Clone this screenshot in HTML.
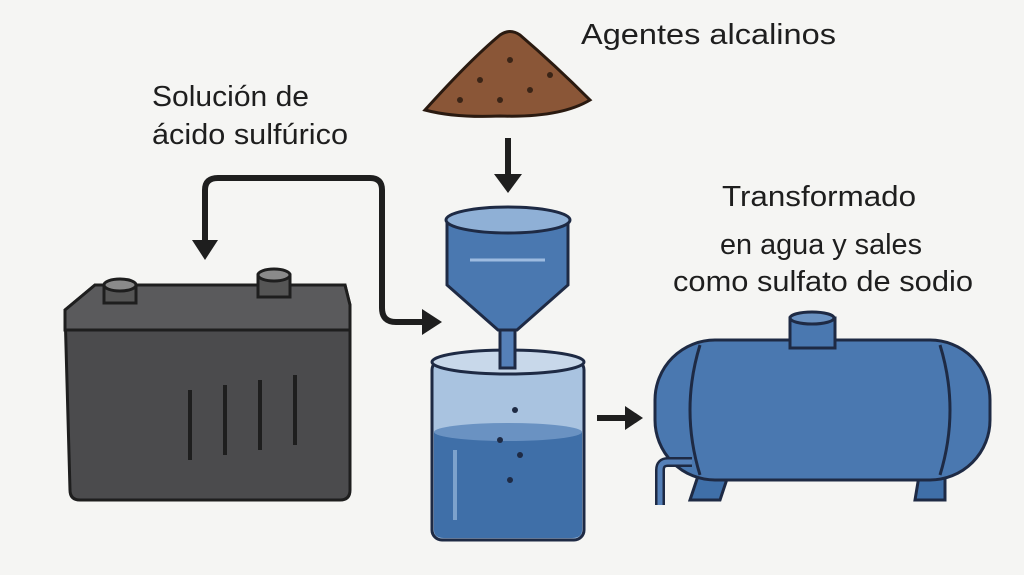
<!DOCTYPE html>
<html><head><meta charset="utf-8"><style>
html,body{margin:0;padding:0;background:#f5f5f3;}
svg{display:block}
text{font-family:"Liberation Sans",sans-serif;fill:#1e1e1e;font-size:29px}
</style></head><body>
<svg width="1024" height="575" viewBox="0 0 1024 575">
<rect width="1024" height="575" fill="#f5f5f3"/>
<!-- texts -->
<text x="581" y="44" textLength="255" lengthAdjust="spacingAndGlyphs">Agentes alcalinos</text>
<text x="152" y="106" textLength="157" lengthAdjust="spacingAndGlyphs">Solución de</text>
<text x="152" y="144" textLength="196" lengthAdjust="spacingAndGlyphs">ácido sulfúrico</text>
<text x="722" y="206" textLength="194" lengthAdjust="spacingAndGlyphs">Transformado</text>
<text x="720" y="254" textLength="202" lengthAdjust="spacingAndGlyphs">en agua y sales</text>
<text x="673" y="291" textLength="300" lengthAdjust="spacingAndGlyphs">como sulfato de sodio</text>
<!-- sand pile -->
<path d="M425 110 Q470 60 500 35 Q510 28 520 35 Q555 65 590 100 Q560 118 500 116 Q455 118 425 110Z" fill="#8a5637" stroke="#2a1a10" stroke-width="3"/>
<g fill="#3a2416"><circle cx="480" cy="80" r="3"/><circle cx="510" cy="60" r="3"/><circle cx="530" cy="90" r="3"/><circle cx="460" cy="100" r="3"/><circle cx="550" cy="75" r="3"/><circle cx="500" cy="100" r="3"/></g>
<!-- down arrow -->
<line x1="508" y1="138" x2="508" y2="178" stroke="#1e1e1e" stroke-width="6"/>
<path d="M494 174 L522 174 L508 193Z" fill="#1e1e1e"/>
<!-- battery arrow -->
<path d="M205 245 L205 190 Q205 178 218 178 L370 178 Q382 178 382 190 L382 308 Q382 322 396 322 L425 322" fill="none" stroke="#1e1e1e" stroke-width="6"/>
<path d="M192 240 L218 240 L205 260Z" fill="#1e1e1e"/>
<path d="M422 309 L422 335 L442 322Z" fill="#1e1e1e"/>
<!-- battery -->
<path d="M65 310 L95 285 L345 285 L350 305 L350 490 Q350 500 340 500 L80 500 Q70 500 70 490Z" fill="#4b4b4d" stroke="#1e1e1e" stroke-width="3"/>
<path d="M65 310 L95 285 L345 285 L350 305 L350 330 L65 330Z" fill="#5a5a5c" stroke="#1e1e1e" stroke-width="3"/>
<rect x="104" y="285" width="32" height="18" fill="#555" stroke="#1e1e1e" stroke-width="3"/>
<ellipse cx="120" cy="285" rx="16" ry="6" fill="#8a8a8a" stroke="#1e1e1e" stroke-width="3"/>
<rect x="258" y="275" width="32" height="22" fill="#555" stroke="#1e1e1e" stroke-width="3"/>
<ellipse cx="274" cy="275" rx="16" ry="6" fill="#8a8a8a" stroke="#1e1e1e" stroke-width="3"/>
<g stroke="#1e1e1e" stroke-width="4"><line x1="190" y1="390" x2="190" y2="460"/><line x1="225" y1="385" x2="225" y2="455"/><line x1="260" y1="380" x2="260" y2="450"/><line x1="295" y1="375" x2="295" y2="445"/></g>
<!-- beaker -->
<rect x="432" y="360" width="152" height="180" rx="10" fill="#a9c3e0" stroke="#1e2a44" stroke-width="3"/>
<path d="M434 432 Q508 422 582 432 L582 530 Q582 538 572 538 L444 538 Q434 538 434 530Z" fill="#3f6fa8"/>
<ellipse cx="508" cy="362" rx="76" ry="12" fill="#c8d8ea" stroke="#1e2a44" stroke-width="3"/>
<ellipse cx="508" cy="432" rx="74" ry="9" fill="#6a92c2"/>
<line x1="455" y1="450" x2="455" y2="520" stroke="#7da2cc" stroke-width="4"/>
<!-- funnel -->
<path d="M500 300 L500 368 L515 368 L515 300Z" fill="#5580b8" stroke="#1e2a44" stroke-width="3"/>
<path d="M447 220 L568 220 L568 285 L517 330 L498 330 L447 285Z" fill="#4a78b0" stroke="#1e2a44" stroke-width="3"/>
<ellipse cx="508" cy="220" rx="62" ry="13" fill="#8fb0d6" stroke="#1e2a44" stroke-width="3"/>
<line x1="470" y1="260" x2="545" y2="260" stroke="#9dbbe0" stroke-width="3"/>
<g fill="#1e2a44"><circle cx="515" cy="410" r="3"/><circle cx="500" cy="440" r="3"/><circle cx="520" cy="455" r="3"/><circle cx="510" cy="480" r="3"/></g>
<!-- arrow -->
<line x1="597" y1="418" x2="628" y2="418" stroke="#1e1e1e" stroke-width="6"/>
<path d="M625 406 L625 430 L643 418Z" fill="#1e1e1e"/>
<!-- tank -->
<path d="M700 470 L690 500 L720 500 L730 470Z M920 470 L915 500 L945 500 L945 470Z" fill="#3f6fa8" stroke="#1e2a44" stroke-width="3"/>
<rect x="655" y="340" width="335" height="140" rx="60" fill="#4a78b0" stroke="#1e2a44" stroke-width="3"/>
<path d="M700 345 Q680 410 700 475" fill="none" stroke="#1e2a44" stroke-width="3"/>
<path d="M940 345 Q960 410 940 475" fill="none" stroke="#1e2a44" stroke-width="3"/>
<rect x="790" y="318" width="45" height="30" fill="#4a78b0" stroke="#1e2a44" stroke-width="3"/>
<ellipse cx="812" cy="318" rx="22" ry="6" fill="#6a92c2" stroke="#1e2a44" stroke-width="3"/>
<path d="M692 462 L668 462 Q660 462 660 470 L660 505" fill="none" stroke="#1e2a44" stroke-width="10"/>
<path d="M692 462 L668 462 Q660 462 660 470 L660 505" fill="none" stroke="#5580b8" stroke-width="5"/>
</svg>
</body></html>
